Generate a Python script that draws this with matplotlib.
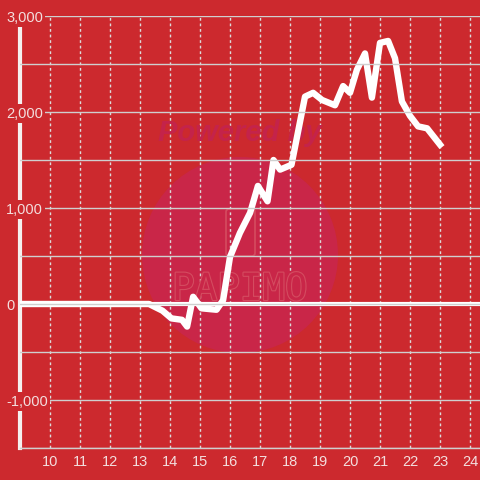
import matplotlib
matplotlib.use("Agg")
import matplotlib.pyplot as plt
from matplotlib.patches import Circle, FancyBboxPatch
from matplotlib import patheffects

plt.rcParams["font.family"] = ["Liberation Sans", "DejaVu Sans"]

# hour of day vs value
hours = [9.0, 13.3, 13.75, 14.05, 14.4, 14.57, 14.77, 15.05, 15.55, 15.77,
         16.0, 16.33, 16.67, 16.93, 17.25, 17.45, 17.67, 18.05, 18.5, 18.77,
         19.07, 19.5, 19.77, 20.0, 20.23, 20.5, 20.73, 21.0, 21.27, 21.5,
         21.73, 22.0, 22.27, 22.57, 23.0]
values = [0, 0, -70, -150, -165, -235, 75, -45, -60, 40,
          490, 740, 950, 1230, 1070, 1500, 1400, 1450, 2160, 2200,
          2125, 2070, 2270, 2200, 2440, 2610, 2150, 2720, 2740, 2560,
          2110, 1960, 1850, 1830, 1660]
x_ticks = list(range(10, 25))
y_ticks = [-1000, 0, 1000, 2000, 3000]
y_labels = ["-1,000", "0", "1,000", "2,000", "3,000"]

bg = "#cc292e"
txt = "#f3dede"
circ = "#c92648"

fig = plt.figure(figsize=(4.8, 4.8), dpi=100, facecolor=bg)
ax = fig.add_axes([20 / 480, 32 / 480, 460 / 480, 432 / 480], facecolor=bg)
ax.set_xlim(9, 24.333)
ax.set_ylim(-1500, 3000)

# watermark
ax.add_patch(Circle((240, 480 - 255), 98, transform=None, facecolor=circ,
                    edgecolor="none", zorder=0.5))
ax.text(240 / 480, 1 - 133 / 480, "Powered by", transform=fig.transFigure,
        ha="center", va="center", fontsize=21, fontweight="bold", fontstyle="italic",
        color="#c4234a", zorder=0.6)
ax.text(240 / 480, 1 - 290 / 480, "PAPIMO", transform=fig.transFigure,
        ha="center", va="center", fontsize=27, color=circ, family="DejaVu Sans Mono",
        zorder=0.6, path_effects=[patheffects.withStroke(linewidth=1.6, foreground="#d44c60")])
ax.add_patch(FancyBboxPatch((226, 480 - 256), 29, 47, boxstyle="round,pad=0,rounding_size=3",
                            transform=None, facecolor="none", edgecolor="#d44c60",
                            lw=1.2, zorder=0.6))

ax.set_xticks(x_ticks)
ax.set_yticks(y_ticks)
ax.set_yticklabels(y_labels)
ax.set_yticks([-1500, -500, 500, 1500, 2500], minor=True)
ax.grid(axis="y", which="both", color="#cfcfcf", linewidth=1, linestyle="-")
ax.grid(axis="x", color="#dcdcdc", linewidth=1, linestyle=(0, (2, 2)))
ax.set_axisbelow(True)

ax.axhline(0, color="white", linewidth=3, zorder=2.6, solid_capstyle="projecting")
ax.plot(hours, values, color="white", linewidth=4.6, zorder=2.7)

for s in ["top", "right"]:
    ax.spines[s].set_visible(False)
ax.spines["left"].set_color("#f5f0f0")
ax.spines["left"].set_linewidth(3)
ax.spines["bottom"].set_color("#cfcfcf")
ax.spines["bottom"].set_linewidth(1)

ax.tick_params(axis="y", which="both", length=0, pad=10, labelcolor=txt, labelsize=10.5)
ax.tick_params(axis="x", which="both", length=0, pad=5, labelcolor=txt, labelsize=10.5)
for lab in ax.get_yticklabels():
    lab.set_ha("left")
    lab.set_bbox(dict(facecolor=bg, edgecolor="none", pad=1.5))
ax.yaxis.set_zorder(3)

fig.savefig("out.png", dpi=100, facecolor=bg)
